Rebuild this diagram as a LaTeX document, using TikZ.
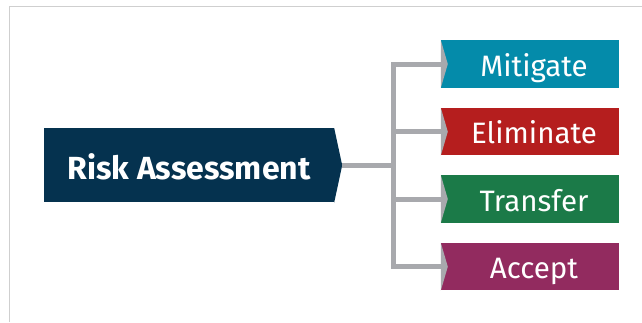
\documentclass[tikz,border=0pt]{standalone}
\usepackage{fontspec}
\setmainfont{Fira Sans}
\usetikzlibrary{calc}

\definecolor{navy}{HTML}{05324F}
\definecolor{teal}{HTML}{048BAA}
\definecolor{brick}{HTML}{B51E1E}
\definecolor{forest}{HTML}{1B7A48}
\definecolor{plum}{HTML}{922B5F}
\definecolor{linkgray}{HTML}{A8A9AD}
\definecolor{framegray}{HTML}{CFCFCF}

\tikzset{
  mainbox/.style={fill=navy, text=white, font=\bfseries\fontsize{32}{32}\selectfont,
    minimum width=290pt, minimum height=74pt, inner sep=0pt,
    text height=28pt, text depth=0pt},
  choice/.style={fill=#1, text=white, font=\fontsize{29.5}{29.5}\selectfont,
    minimum width=178pt, minimum height=47.5pt, inner sep=0pt,
    text height=24.3pt, text depth=0pt},
  link/.style={draw=linkgray, line width=5pt},
}

\begin{document}
\begin{tikzpicture}[x=1pt,y=-1pt]
  \useasboundingbox (0,0) rectangle (642,322);
  \draw[framegray, line width=1.5pt] (9.3,322) -- (9.3,6.5) -- (642,6.5);

  \node[mainbox] (risk) at (189,165.3) {Risk Assessment};
  \coordinate (tip) at ($(risk.east)+(8,0)$);
  \fill[navy] (risk.north east) -- (tip) -- (risk.south east) -- cycle;

  \node[choice=teal] (mit) at (530,64) {\hspace*{8pt}Mitigate};
  \node[choice=brick] (eli) at (530,131.7) {\hspace*{8pt}Eliminate};
  \node[choice=forest] (tra) at (530,199) {\hspace*{8pt}Transfer};
  \node[choice=plum] (acc) at (530,266.7) {\hspace*{8pt}Accept};

  \coordinate (fork) at (393.3,165.3);
  \draw[link] (tip) -- (fork);
  \draw[link] (mit.west) -| (fork) |- (acc.west);
  \draw[link] (fork |- eli.west) -- (eli.west);
  \draw[link] (fork |- tra.west) -- (tra.west);

  \foreach \opt in {mit,eli,tra,acc}
    \fill[linkgray] (\opt.north west) -- ($(\opt.west)+(7,0)$) -- (\opt.south west) -- cycle;
\end{tikzpicture}
\end{document}
